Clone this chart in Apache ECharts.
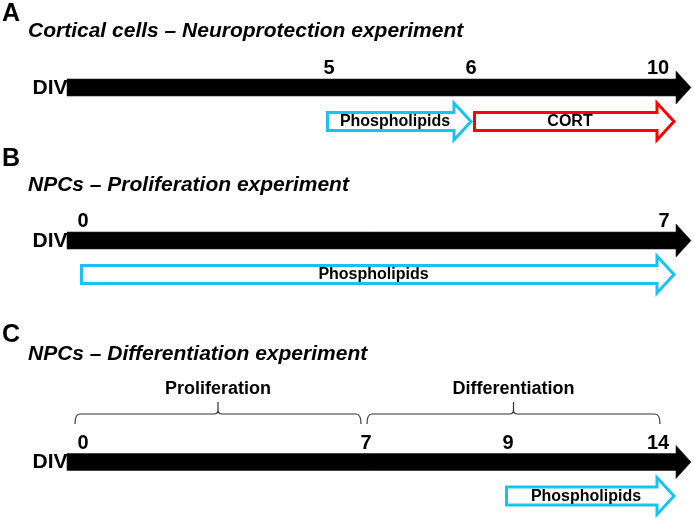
<!DOCTYPE html>
<html><head><meta charset="utf-8">
<script src="https://cdn.jsdelivr.net/npm/echarts@6/dist/echarts.min.js"></script>
<style>html,body{margin:0;padding:0;background:#fff}#c{width:694px;height:520px}</style>
</head><body><div id="c"></div>
<script>
// ---- data ----
const panelLetters = ['A', 'B', 'C'];
const panelTitles = [
  'Cortical cells – Neuroprotection experiment',
  'NPCs – Proliferation experiment',
  'NPCs – Differentiation experiment'
];
const axisName = 'DIV';
const dayLabelsA = ['5', '6', '10'];
const dayLabelsB = ['0', '7'];
const dayLabelsC = ['0', '7', '9', '14'];
const treatmentNames = ['Phospholipids', 'CORT', 'Phospholipids', 'Phospholipids'];
const treatmentPanel = [0, 0, 1, 2];
const treatmentStart = ['5', '6', '0', '9'];
const treatmentEnd = ['6', '10', '7', '14'];
const phaseNames = ['Proliferation', 'Differentiation'];
const phasePanel = [2, 2];
const phaseStart = ['0', '7'];
const phaseEnd = ['7', '14'];

// ---- layout (schematic placement, not data) ----
const dayLabels = [dayLabelsA, dayLabelsB, dayLabelsC];
const LAYOUT = {
  dayX: [[329, 471, 658], [83, 664], [83, 366, 508, 658]],
  shaftY: [87.5, 240.5, 462],
  letterY: [14, 159, 335.5],
  titleY: [31.5, 185, 354],
  axisStart: 67, shaftEnd: 676, tipX: 691
};
const FONT = '"Liberation Sans", Arial, Helvetica, sans-serif';
const COLORS = { Phospholipids: '#16C3F2', CORT: '#FF0000' };

function dayX(p, d) { return LAYOUT.dayX[p][dayLabels[p].indexOf(d)]; }
function isLast(p, d) { return dayLabels[p].indexOf(d) === dayLabels[p].length - 1; }
function isFirst(p, d) { return dayLabels[p].indexOf(d) === 0; }

function txt(api, x, y, s, font, align) {
  const c = api.coord([x, y]);
  return { type: 'text', silent: true, style: { text: s, x: c[0], y: c[1], font: font, fill: '#000', align: align || 'center', verticalAlign: 'middle' } };
}

// timeline arrows + labels
function renderTimeline(params, api) {
  const p = api.value(0);
  const cy = LAYOUT.shaftY[p];
  const pts = [
    [LAYOUT.axisStart, cy - 8.5], [LAYOUT.shaftEnd, cy - 8.5], [LAYOUT.shaftEnd, cy - 16.5],
    [LAYOUT.tipX, cy], [LAYOUT.shaftEnd, cy + 16.5], [LAYOUT.shaftEnd, cy + 8.5], [LAYOUT.axisStart, cy + 8.5]
  ].map(q => api.coord(q));
  const children = [
    { type: 'polygon', shape: { points: pts }, style: { fill: '#000', stroke: '#222', lineWidth: 0.6 } },
    txt(api, LAYOUT.axisStart + 0.5, cy + 0.5, axisName, 'bold 21px ' + FONT, 'right'),
    txt(api, 2, LAYOUT.letterY[p], panelLetters[p], 'bold 25px ' + FONT, 'left'),
    txt(api, 28, LAYOUT.titleY[p], panelTitles[p], 'italic bold 21px ' + FONT, 'left')
  ];
  dayLabels[p].forEach((d, k) => {
    children.push(txt(api, LAYOUT.dayX[p][k], cy - 19, d, 'bold 20px ' + FONT, 'center'));
  });
  return { type: 'group', children };
}

// treatment arrows
function renderTreatment(params, api) {
  const i = api.value(0);
  const p = treatmentPanel[i];
  const cy = LAYOUT.shaftY[p] + 34;
  let x1 = dayX(p, treatmentStart[i]) - 3;
  // if a previous treatment in the same panel ends on this day, start at its tip
  for (let j = 0; j < i; j++) {
    if (treatmentPanel[j] === p && treatmentEnd[j] === treatmentStart[i]) x1 = dayX(p, treatmentEnd[j]) + 2;
  }
  const x2 = isLast(p, treatmentEnd[i]) ? LAYOUT.shaftEnd : dayX(p, treatmentEnd[i]) + 2;
  const tip = x2 - 2, base = x2 - 19, left = x1 + 1.5;
  const pts = [
    [left, cy - 9], [base, cy - 9], [base, cy - 18.5], [tip, cy],
    [base, cy + 18.5], [base, cy + 9], [left, cy + 9]
  ].map(q => api.coord(q));
  const name = treatmentNames[i];
  return {
    type: 'group', children: [
      { type: 'polygon', shape: { points: pts }, style: { fill: '#fff', stroke: COLORS[name], lineWidth: 3, lineJoin: 'miter', miterLimit: 10 } },
      txt(api, (x1 + base) / 2 + 5, cy + 0.5, name, 'bold 16px ' + FONT, 'center')
    ]
  };
}

// phase brackets
function renderPhase(params, api) {
  const i = api.value(0);
  const p = phasePanel[i];
  const sy = LAYOUT.shaftY[p];
  const a = isFirst(p, phaseStart[i]) ? dayX(p, phaseStart[i]) - 8 : dayX(p, phaseStart[i]) + 1;
  const b = isLast(p, phaseEnd[i]) ? dayX(p, phaseEnd[i]) + 2 : dayX(p, phaseEnd[i]) - 5;
  const m = (a + b) / 2;
  const ly = sy - 48;
  const c = (x, y) => api.coord([x, y]);
  const A0 = c(a, ly + 10), A1 = c(a, ly), A2 = c(a + 5, ly), M0 = c(m - 4, ly), M1 = c(m, ly), M2 = c(m, ly - 4), M3 = c(m, ly - 12),
        M4 = c(m + 4, ly), B0 = c(b - 5, ly), B1 = c(b, ly), B2 = c(b, ly + 10);
  const d = `M${A0[0]} ${A0[1]} Q${A1[0]} ${A1[1]} ${A2[0]} ${A2[1]} L${M0[0]} ${M0[1]} Q${M1[0]} ${M1[1]} ${M2[0]} ${M2[1]} L${M3[0]} ${M3[1]} ` +
            `M${M2[0]} ${M2[1]} Q${M1[0]} ${M1[1]} ${M4[0]} ${M4[1]} L${B0[0]} ${B0[1]} Q${B1[0]} ${B1[1]} ${B2[0]} ${B2[1]}`;
  return {
    type: 'group', children: [
      { type: 'path', shape: { pathData: d }, style: { fill: 'none', stroke: '#333', lineWidth: 1.2 } },
      txt(api, m, sy - 73, phaseNames[i], 'bold 18px ' + FONT, 'center')
    ]
  };
}

const chart = echarts.init(document.getElementById('c'), null, { renderer: 'canvas' });
chart.setOption({
  animation: false,
  backgroundColor: '#fff',
  grid: { left: 0, right: 0, top: 0, bottom: 0, containLabel: false },
  xAxis: { type: 'value', min: 0, max: 694, show: false },
  yAxis: { type: 'value', min: 0, max: 520, inverse: true, show: false },
  series: [
    { type: 'custom', renderItem: renderTimeline, clip: false, silent: true, data: panelLetters.map((_, i) => [i]) },
    { type: 'custom', renderItem: renderTreatment, clip: false, silent: true, data: treatmentNames.map((_, i) => [i]) },
    { type: 'custom', renderItem: renderPhase, clip: false, silent: true, data: phaseNames.map((_, i) => [i]) }
  ]
});
</script>
</body></html>
